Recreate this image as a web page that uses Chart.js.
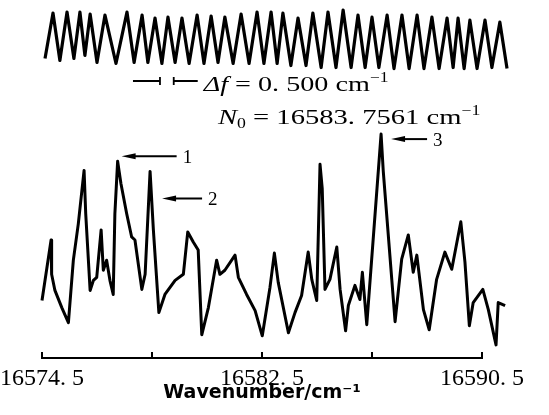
<!DOCTYPE html>
<html>
<head>
<meta charset="utf-8">
<title>Wavenumber spectrum</title>
<script src="https://cdn.jsdelivr.net/npm/chart.js@4.4.1/dist/chart.umd.min.js"></script>
<style>
  html, body { margin: 0; padding: 0; background: #fff; }
  #wrap { width: 549px; height: 415px; position: relative; }
</style>
</head>
<body>
<div id="wrap"><canvas id="chart"></canvas></div>
<script>
// ---- data (x: cm^-1, y: arbitrary units) ----
const X_MIN = 16574.5;
const X_MAX = 16590.5;
const TICK_VALUES = [16574.5, 16578.5, 16582.5, 16586.5, 16590.5];
const TICK_LABELS = ['16574. 5', '', '16582. 5', '', '16590. 5'];

// etalon fringe trace (top)
const FRINGE_X = [
  16574.61, 16574.90, 16575.15, 16575.41, 16575.66, 16575.88, 16576.06, 16576.25, 16576.50, 16576.79,
  16577.19, 16577.59, 16577.85, 16578.14, 16578.35, 16578.61, 16578.86, 16579.08, 16579.34, 16579.59,
  16579.85, 16580.14, 16580.39, 16580.65, 16580.90, 16581.15, 16581.45, 16581.74, 16582.03, 16582.32,
  16582.57, 16582.83, 16583.05, 16583.26, 16583.55, 16583.81, 16584.10, 16584.35, 16584.65, 16584.90,
  16585.19, 16585.45, 16585.74, 16585.99, 16586.25, 16586.50, 16586.75, 16587.05, 16587.30, 16587.59,
  16587.85, 16588.14, 16588.39, 16588.68, 16588.94, 16589.23, 16589.45, 16589.63, 16589.85, 16590.06,
  16590.32, 16590.61, 16590.86, 16591.15, 16591.41
];
const FRINGE_Y = [
  297, 342, 295, 343, 297, 343, 300, 341, 293, 340,
  292, 343, 293, 340, 293, 337, 292, 338, 293, 337,
  292, 340, 292, 339, 293, 338, 292, 341, 292, 343,
  292, 343, 292, 342, 290, 337, 290, 342, 288, 343,
  288, 345, 288, 340, 288, 338, 288, 340, 287, 340,
  287, 340, 287, 338, 287, 337, 288, 337, 287, 335,
  287, 335, 288, 333, 287
];

// absorption spectrum (bottom)
const SPEC_X = [
  16574.50, 16574.83, 16574.85, 16574.97, 16575.22, 16575.46, 16575.64, 16575.82, 16576.03, 16576.09,
  16576.25, 16576.37, 16576.49, 16576.65, 16576.73, 16576.85, 16576.97, 16577.09, 16577.15, 16577.25,
  16577.37, 16577.58, 16577.76, 16577.88, 16578.13, 16578.25, 16578.43, 16578.55, 16578.75, 16578.97,
  16579.34, 16579.64, 16579.80, 16580.00, 16580.18, 16580.31, 16580.55, 16580.85, 16580.97, 16581.15,
  16581.52, 16581.64, 16581.94, 16582.25, 16582.51, 16582.79, 16582.95, 16583.09, 16583.46, 16583.70,
  16583.94, 16584.18, 16584.31, 16584.49, 16584.61, 16584.69, 16584.79, 16584.97, 16585.22, 16585.34,
  16585.54, 16585.64, 16585.88, 16586.06, 16586.15, 16586.31, 16586.83, 16586.91, 16587.34, 16587.58,
  16587.82, 16588.00, 16588.13, 16588.37, 16588.58, 16588.85, 16589.15, 16589.40, 16589.73, 16589.88,
  16590.04, 16590.18, 16590.53, 16590.73, 16591.01, 16591.09, 16591.34
];
const SPEC_Y = [
  57, 117, 83, 67, 50, 35, 97, 133, 186, 143,
  67, 77, 80, 127, 87, 97, 77, 63, 143, 195,
  173, 143, 120, 117, 68, 83, 185, 127, 45, 63,
  77, 83, 125, 115, 107, 23, 50, 97, 83, 87,
  102, 80, 63, 47, 22, 70, 104, 75, 25, 45,
  62, 105, 78, 57, 192, 168, 68, 78, 110, 68,
  27, 52, 72, 58, 85, 33, 222, 185, 36, 98,
  122, 85, 102, 48, 28, 78, 105, 88, 135, 95,
  32, 55, 68, 48, 13, 55, 52
];

// labelled lines
const PEAK_LABELS = ['1', '2', '3'];
const PEAK_X = [16577.25, 16578.43, 16586.83];
const PEAK_Y = [195, 185, 222];

const FRINGE_SPACING = 0.5;       // Δf
const FRINGE_MARK_X = 16578.79;   // where the Δf bracket sits
const N0_TEXT = '16583. 7561';
const DF_TEXT = '0. 500';

// ---- styling ----
const INK = '#000000';
const SERIF = '"Liberation Serif", "DejaVu Serif", serif';
const ARROWS = [            // arrow tip offset from the peak and arrow length, px
  { dx: 4,  dy: -5, len: 55 },
  { dx: 12, dy: 27, len: 40 },
  { dx: 10, dy: 5,  len: 36 },
];

function pts(xs, ys) { return xs.map((x, i) => ({ x: x, y: ys[i] })); }

function richText(ctx, parts, x, y, size, sx) {
  ctx.save();
  ctx.translate(x, y);
  ctx.scale(sx, 1);
  ctx.textBaseline = 'alphabetic';
  ctx.textAlign = 'left';
  let cx = 0;
  parts.forEach(p => {
    const small = p.sub || p.sup;
    const fs = small ? size * 0.62 : size;
    ctx.font = (p.italic ? 'italic ' : '') + fs + 'px ' + SERIF;
    const dy = p.sup ? -size * 0.4 : (p.sub ? size * 0.2 : 0);
    ctx.fillText(p.t, cx, dy);
    cx += ctx.measureText(p.t).width;
  });
  ctx.restore();
}

function arrow(ctx, tipX, y, tailX) {
  const dir = Math.sign(tailX - tipX);
  ctx.beginPath();
  ctx.moveTo(tipX + dir * 8, y);
  ctx.lineTo(tailX, y);
  ctx.stroke();
  ctx.beginPath();
  ctx.moveTo(tipX, y);
  ctx.lineTo(tipX + dir * 14, y - 3);
  ctx.lineTo(tipX + dir * 14, y + 3);
  ctx.closePath();
  ctx.fill();
}

const annotations = {
  id: 'annotations',
  afterDatasetsDraw(chart) {
    const { ctx, chartArea } = chart;
    const xs = chart.scales.x, ys = chart.scales.y;
    ctx.save();
    ctx.strokeStyle = INK;
    ctx.fillStyle = INK;
    ctx.lineWidth = 2;

    // tick marks pointing up from the axis
    TICK_VALUES.forEach(v => {
      const px = Math.round(xs.getPixelForValue(v));
      ctx.beginPath();
      ctx.moveTo(px, chartArea.bottom);
      ctx.lineTo(px, chartArea.bottom - 6);
      ctx.stroke();
    });

    // Δf bracket: →| |←
    const b1 = xs.getPixelForValue(FRINGE_MARK_X);
    const b2 = xs.getPixelForValue(FRINGE_MARK_X + FRINGE_SPACING);
    const yb = 81;
    ctx.lineWidth = 1.8;
    ctx.beginPath();
    ctx.moveTo(b1 - 27, yb); ctx.lineTo(b1, yb);
    ctx.moveTo(b1, yb - 4); ctx.lineTo(b1, yb + 4);
    ctx.moveTo(b2, yb - 4); ctx.lineTo(b2, yb + 4);
    ctx.moveTo(b2, yb); ctx.lineTo(b2 + 24, yb);
    ctx.stroke();

    richText(ctx, [
      { t: 'Δf', italic: true },
      { t: ' = ' + DF_TEXT + ' cm' },
      { t: '−1', sup: true }
    ], b2 + 30, 91, 22, 1.28);

    richText(ctx, [
      { t: 'N', italic: true },
      { t: '0', sub: true },
      { t: ' = ' + N0_TEXT + ' cm' },
      { t: '−1', sup: true }
    ], 218, 124, 22, 1.3);

    // numbered arrows
    ctx.lineWidth = 2;
    PEAK_LABELS.forEach((lab, i) => {
      const a = ARROWS[i];
      const tipX = xs.getPixelForValue(PEAK_X[i]) + a.dx;
      const y = ys.getPixelForValue(PEAK_Y[i]) + a.dy;
      arrow(ctx, tipX, y, tipX + a.len);
      ctx.font = '19px ' + SERIF;
      ctx.textAlign = 'left';
      ctx.textBaseline = 'middle';
      ctx.fillText(lab, tipX + a.len + 6, y + 2);
    });
    ctx.restore();
  }
};

new Chart(document.getElementById('chart'), {
  type: 'line',
  data: {
    datasets: [
      {
        label: 'Fringes',
        data: pts(FRINGE_X, FRINGE_Y),
        borderColor: INK,
        borderWidth: 3.2,
        borderJoinStyle: 'round',
        pointRadius: 0,
        tension: 0,
        clip: false,
      },
      {
        label: 'Spectrum',
        data: pts(SPEC_X, SPEC_Y),
        borderColor: INK,
        borderWidth: 3,
        borderJoinStyle: 'round',
        pointRadius: 0,
        tension: 0,
        clip: false,
      }
    ]
  },
  options: {
    responsive: true,
    maintainAspectRatio: false,
    animation: false,
    layout: { padding: { left: 42, right: 67, top: 5, bottom: 0 } },
    plugins: { legend: { display: false }, tooltip: { enabled: false } },
    scales: {
      x: {
        type: 'linear',
        min: X_MIN,
        bounds: 'data',
        // max set here rather than in options so the traces past the
        // last tick are still drawn (they run beyond the axis in the original)
        afterDataLimits: s => { s.max = X_MAX; },
        afterBuildTicks: s => { s.ticks = TICK_VALUES.map(v => ({ value: v })); },
        afterFit: s => { s.paddingLeft = 0; s.paddingRight = 0; },
        grid: { display: false, drawTicks: false },
        border: { display: true, color: INK, width: 2 },
        ticks: {
          autoSkip: false,
          maxRotation: 0,
          padding: 9,
          color: INK,
          font: { family: SERIF, size: 24, lineHeight: 1 },
          callback: (v, i) => TICK_LABELS[i]
        },
        title: {
          display: true,
          text: 'Wavenumber/cm⁻¹',
          color: INK,
          font: { family: '"DejaVu Sans", sans-serif', size: 19, weight: 'bold', lineHeight: 1 },
          padding: { top: -16, bottom: 12 }
        }
      },
      y: { display: false, min: 0, max: 350 }
    }
  },
  plugins: [annotations]
});
</script>
</body>
</html>
